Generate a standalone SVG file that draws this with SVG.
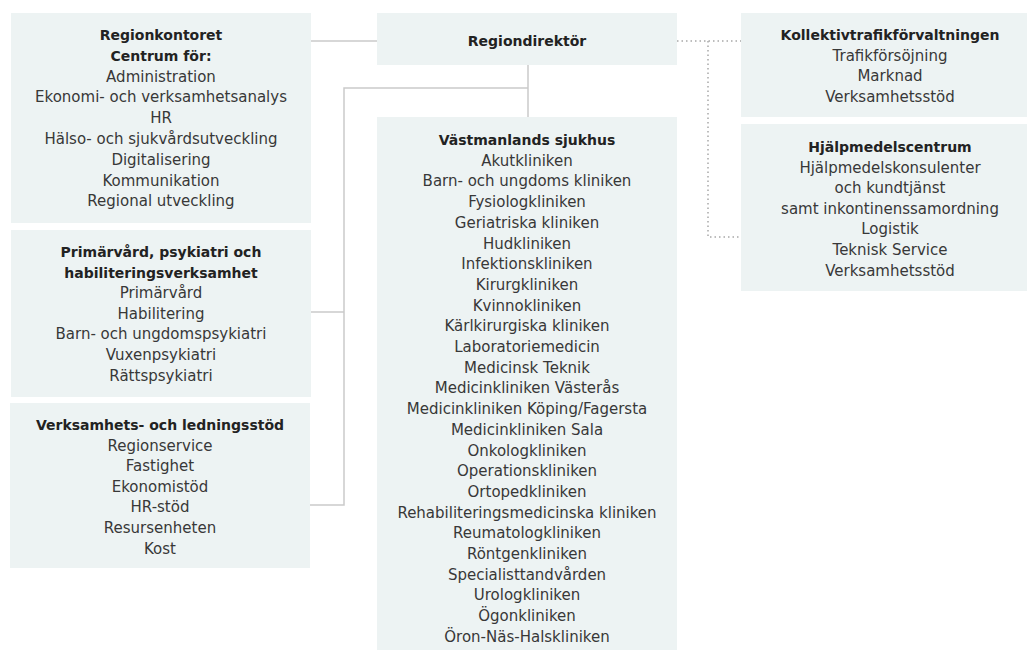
<svg xmlns="http://www.w3.org/2000/svg" width="1027" height="651" viewBox="0 0 1027 651">
<style>
.box{fill:#edf3f3}
text{font-family:"DejaVu Sans","Liberation Sans",sans-serif;font-size:15px;fill:#383838;text-anchor:middle}
.t{font-weight:bold;fill:#222;font-size:14px}
.ln{fill:none;stroke:#cacaca;stroke-width:1.5}
.dot{fill:none;stroke:#a8a8a8;stroke-width:1.5;stroke-dasharray:1.5 3}
</style>
<rect width="1027" height="651" fill="#fff"/>
<g id="connectors">
<path class="ln" d="M311 41H377"/>
<path class="ln" d="M528 65V117"/>
<path class="ln" d="M528 88H344V505H310"/>
<path class="ln" d="M344 312H311"/>
<path class="dot" d="M677 41H741"/>
<path class="dot" d="M708 41V237H741"/>
</g>
<g id="regionkontoret">
<rect class="box" x="11" y="13" width="300" height="210"/>
<text x="161" y="40"><tspan class="t" x="161">Regionkontoret</tspan><tspan class="t" x="161" dy="20.8">Centrum för:</tspan><tspan x="161" dy="20.8">Administration</tspan><tspan x="161" dy="20.8">Ekonomi- och verksamhetsanalys</tspan><tspan x="161" dy="20.8">HR</tspan><tspan x="161" dy="20.8">Hälso- och sjukvårdsutveckling</tspan><tspan x="161" dy="20.8">Digitalisering</tspan><tspan x="161" dy="20.8">Kommunikation</tspan><tspan x="161" dy="20.8">Regional utveckling</tspan></text>
</g>
<g id="regiondirektor">
<rect class="box" x="377" y="13" width="300" height="52"/>
<text class="t" x="527" y="46">Regiondirektör</text>
</g>
<g id="primarvard">
<rect class="box" x="11" y="230" width="300" height="167"/>
<text x="161" y="257"><tspan class="t" x="161">Primärvård, psykiatri och</tspan><tspan class="t" x="161" dy="20.6">habiliteringsverksamhet</tspan><tspan x="161" dy="20.6">Primärvård</tspan><tspan x="161" dy="20.6">Habilitering</tspan><tspan x="161" dy="20.6">Barn- och ungdomspsykiatri</tspan><tspan x="161" dy="20.6">Vuxenpsykiatri</tspan><tspan x="161" dy="20.6">Rättspsykiatri</tspan></text>
</g>
<g id="verksamhetsstod">
<rect class="box" x="10" y="403" width="300" height="165"/>
<text x="160" y="430"><tspan class="t" x="160">Verksamhets- och ledningsstöd</tspan><tspan x="160" dy="20.6">Regionservice</tspan><tspan x="160" dy="20.6">Fastighet</tspan><tspan x="160" dy="20.6">Ekonomistöd</tspan><tspan x="160" dy="20.6">HR-stöd</tspan><tspan x="160" dy="20.6">Resursenheten</tspan><tspan x="160" dy="20.6">Kost</tspan></text>
</g>
<g id="vastmanlands-sjukhus">
<rect class="box" x="377" y="117" width="300" height="533"/>
<text x="527" y="145"><tspan class="t" x="527">Västmanlands sjukhus</tspan><tspan x="527" dy="20.7">Akutkliniken</tspan><tspan x="527" dy="20.7">Barn- och ungdoms kliniken</tspan><tspan x="527" dy="20.7">Fysiologkliniken</tspan><tspan x="527" dy="20.7">Geriatriska kliniken</tspan><tspan x="527" dy="20.7">Hudkliniken</tspan><tspan x="527" dy="20.7">Infektionskliniken</tspan><tspan x="527" dy="20.7">Kirurgkliniken</tspan><tspan x="527" dy="20.7">Kvinnokliniken</tspan><tspan x="527" dy="20.7">Kärlkirurgiska kliniken</tspan><tspan x="527" dy="20.7">Laboratoriemedicin</tspan><tspan x="527" dy="20.7">Medicinsk Teknik</tspan><tspan x="527" dy="20.7">Medicinkliniken Västerås</tspan><tspan x="527" dy="20.7">Medicinkliniken Köping/Fagersta</tspan><tspan x="527" dy="20.7">Medicinkliniken Sala</tspan><tspan x="527" dy="20.7">Onkologkliniken</tspan><tspan x="527" dy="20.7">Operationskliniken</tspan><tspan x="527" dy="20.7">Ortopedkliniken</tspan><tspan x="527" dy="20.7">Rehabiliteringsmedicinska kliniken</tspan><tspan x="527" dy="20.7">Reumatologkliniken</tspan><tspan x="527" dy="20.7">Röntgenkliniken</tspan><tspan x="527" dy="20.7">Specialisttandvården</tspan><tspan x="527" dy="20.7">Urologkliniken</tspan><tspan x="527" dy="20.7">Ögonkliniken</tspan><tspan x="527" dy="20.7">Öron-Näs-Halskliniken</tspan></text>
</g>
<g id="kollektivtrafik">
<rect class="box" x="741" y="13" width="300" height="104"/>
<text x="890" y="40"><tspan class="t" x="890">Kollektivtrafikförvaltningen</tspan><tspan x="890" dy="20.7">Trafikförsöjning</tspan><tspan x="890" dy="20.7">Marknad</tspan><tspan x="890" dy="20.7">Verksamhetsstöd</tspan></text>
</g>
<g id="hjalpmedelscentrum">
<rect class="box" x="741" y="124" width="300" height="167"/>
<text x="890" y="152"><tspan class="t" x="890">Hjälpmedelscentrum</tspan><tspan x="890" dy="20.6">Hjälpmedelskonsulenter</tspan><tspan x="890" dy="20.6">och kundtjänst</tspan><tspan x="890" dy="20.6">samt inkontinenssamordning</tspan><tspan x="890" dy="20.6">Logistik</tspan><tspan x="890" dy="20.6">Teknisk Service</tspan><tspan x="890" dy="20.6">Verksamhetsstöd</tspan></text>
</g>
</svg>
